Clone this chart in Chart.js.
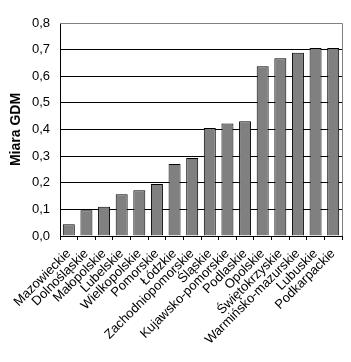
<!DOCTYPE html>
<html>
<head>
<meta charset="utf-8">
<script src="https://cdn.jsdelivr.net/npm/chart.js@4"></script>
<style>
  html, body { margin: 0; padding: 0; background: #fff; }
  #wrap { width: 351px; height: 362px; position: relative; }
</style>
</head>
<body>
<div id="wrap"><canvas id="myChart"></canvas></div>
<script>
// województwa i wartości miary GDM
const regions = ['Mazowieckie', 'Dolnośląskie', 'Małopolskie', 'Lubelskie', 'Wielkopolskie', 'Pomorskie',
  'Łódzkie', 'Zachodniopomorskie', 'Śląskie', 'Kujawsko-pomorskie', 'Podlaskie', 'Opolskie',
  'Świętokrzyskie', 'Warmińsko-mazurskie', 'Lubuskie', 'Podkarpackie'];
const gdmValues = [0.044, 0.097, 0.110, 0.157, 0.172, 0.195, 0.270, 0.293, 0.406, 0.423, 0.431,
  0.638, 0.668, 0.688, 0.706, 0.706];
const yTicks = [0, 0.1, 0.2, 0.3, 0.4, 0.5, 0.6, 0.7, 0.8];

const fontFamily = '"Liberation Sans", Arial, sans-serif';

// szara ramka u góry i z prawej
const frameLines = {
  id: 'frameLines',
  afterDraw(chart) {
    const { ctx, chartArea: a } = chart;
    ctx.save();
    ctx.strokeStyle = '#808080';
    ctx.lineWidth = 1;
    ctx.beginPath();
    ctx.moveTo(a.left, a.top + 0.5);
    ctx.lineTo(a.right + 0.5, a.top + 0.5);
    ctx.lineTo(a.right + 0.5, a.bottom);
    ctx.stroke();
    ctx.restore();
  }
};

const ctx = document.getElementById('myChart').getContext('2d');
new Chart(ctx, {
  type: 'bar',
  data: {
    labels: regions,
    datasets: [{
      data: gdmValues,
      backgroundColor: '#808080',
      borderColor: '#000000',
      borderWidth: 1,
      categoryPercentage: 1,
      barPercentage: 0.68
    }]
  },
  options: {
    responsive: true,
    maintainAspectRatio: false,
    animation: false,
    layout: { padding: { top: 23, right: 9, left: 0, bottom: 0 } },
    plugins: { legend: { display: false }, tooltip: { enabled: false } },
    scales: {
      x: {
        grid: { offset: true, drawOnChartArea: false, color: '#000', tickLength: 4 },
        border: { color: '#000', width: 1 },
        ticks: {
          color: '#000',
          font: { family: fontFamily, size: 13 },
          minRotation: 45,
          maxRotation: 45,
          autoSkip: false,
          padding: 6
        },
        afterFit(scale) { scale.height = 126; }
      },
      y: {
        min: 0,
        max: 0.8,
        afterBuildTicks(scale) { scale.ticks = yTicks.map(v => ({ value: v })); },
        grid: {
          drawTicks: false,
          color: c => (c.tick && c.tick.value >= 0.8 ? '#808080' : '#000'),
          lineWidth: 1
        },
        border: { color: '#000', width: 1 },
        ticks: {
          color: '#000',
          font: { family: fontFamily, size: 13 },
          padding: 10,
          callback: v => v.toFixed(1).replace('.', ',')
        },
        title: {
          display: true,
          text: 'Miara GDM',
          color: '#000',
          font: { family: fontFamily, size: 14, weight: 'bold' },
          padding: { top: 8, bottom: 0 }
        },
        afterFit(scale) { scale.width = 60; }
      }
    }
  },
  plugins: [frameLines]
});
</script>
</body>
</html>
